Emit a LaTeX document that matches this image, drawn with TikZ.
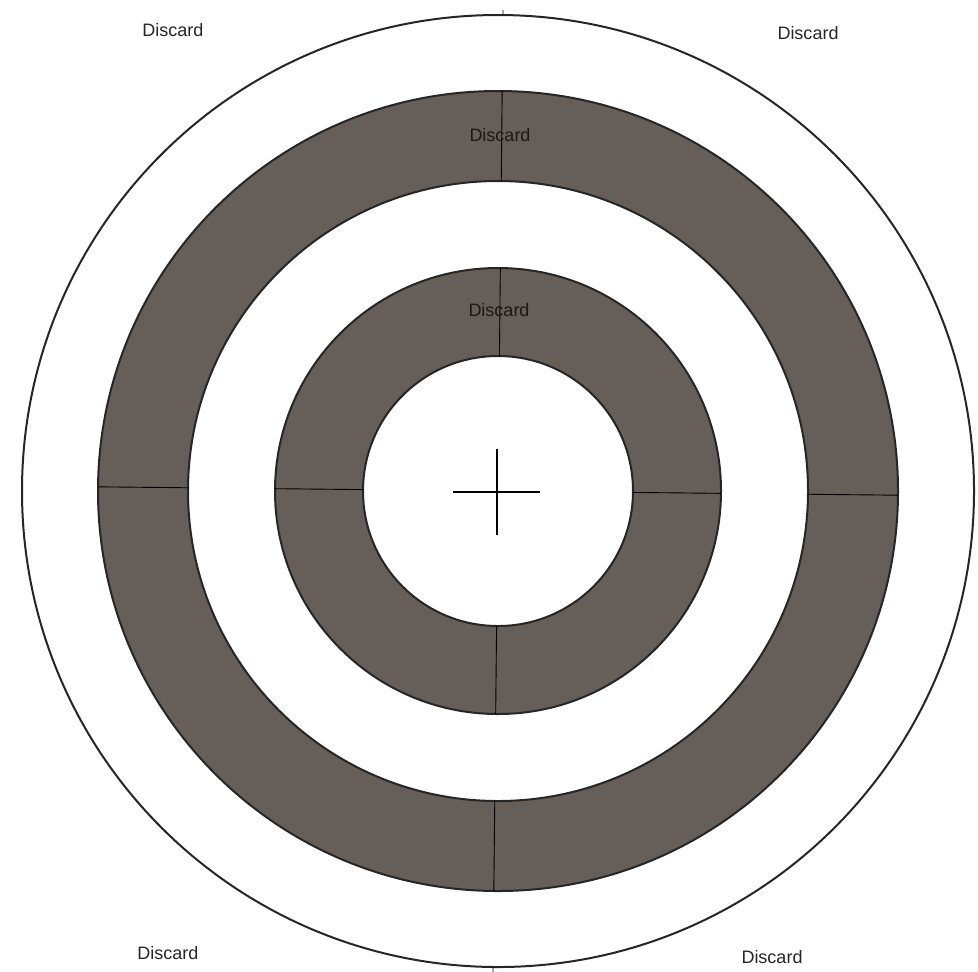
\documentclass[tikz,border=0pt]{standalone}
\usepackage{fontspec}
\setmainfont{Liberation Sans}
\usepackage{xcolor}
\usepackage{tikz}
\usetikzlibrary{positioning}

\definecolor{ringgray}{RGB}{102,94,89}

\begin{document}
\begin{tikzpicture}[x=0.5pt, y=-0.5pt,
        ring/.style={fill=ringgray, draw=black!85, line width=1pt, even odd rule},
        cut/.style={draw=black, line width=0.45pt},
        discard/.style={font=\fontsize{9}{11}\selectfont, text=black!85, inner sep=0pt},
        inring/.style={discard, text=black!90}]

        \useasboundingbox (0,0) rectangle (978,971);
        \coordinate (mid) at (498,491);

        % target rings
        \draw[line width=1pt, black!85] (mid) circle (476);
        \path[ring] (mid) circle (400) (mid) circle (310);
        \path[ring] (mid) circle (223) (mid) circle (135);

        % quarter marks
        \begin{scope}[shift={(mid)}, rotate=-0.6]
            \foreach \a in {0,90,180,270} {
                \draw[cut] (\a:135) -- (\a:223);
                \draw[cut] (\a:310) -- (\a:400);
            }
            \draw[cut] (90:476) -- (90:489);
            \draw[cut] (270:476) -- (270:481);
        \end{scope}

        % aim point
        \coordinate (aim) at (497,492);
        \draw[line width=0.7pt] ([xshift=-22pt]aim) -- ([xshift=21.5pt]aim);
        \draw[line width=0.7pt] ([yshift=21.5pt]aim) -- ([yshift=-21.5pt]aim);

        \node[discard] (tl) at (173,30) {Discard};
        \node[discard] (tr) at (808,33) {Discard};
        \node[inring] (r1) at (500,135) {Discard};
        \node[inring] (r2) at (499,310) {Discard};
        \node[discard] (bl) at (168,953) {Discard};
        \node[discard] (br) at (772,957) {Discard};

    \end{tikzpicture}
\end{document}
